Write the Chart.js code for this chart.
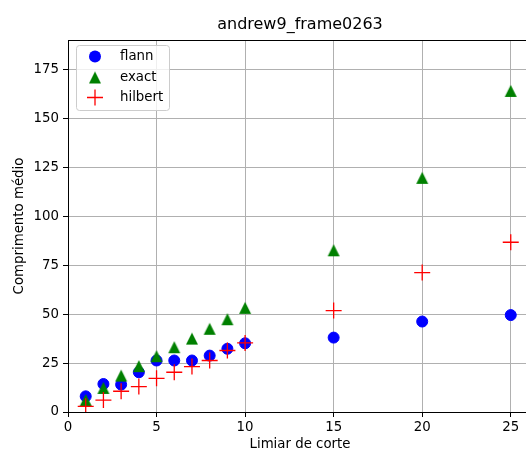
<!DOCTYPE html>
<html>
<head>
<meta charset="utf-8">
<title>andrew9_frame0263</title>
<script src="https://cdn.jsdelivr.net/npm/chart.js@4/dist/chart.umd.min.js"></script>
<style>
  html, body { margin: 0; padding: 0; background: #fff; overflow: hidden; }
  #wrap { width: 526px; height: 459px; overflow: hidden; position: relative; }
  #scatterChart { position: absolute; left: 0; top: 0; }
</style>
</head>
<body>
<div id="wrap"><canvas id="scatterChart" width="600" height="459"></canvas></div>
<script>
// cut-off thresholds and mean lengths per method
const thresholds = [1, 2, 3, 4, 5, 6, 7, 8, 9, 10, 15, 20, 25];
const flann   = [8.0, 14.3, 14.0, 20.3, 26.3, 26.3, 26.3, 28.8, 32.3, 35.1, 38.0, 46.2, 49.5];
const exact   = [6.1, 12.3, 18.6, 23.4, 28.5, 33.1, 37.5, 42.5, 47.4, 53.2, 82.6, 119.6, 164.0];
const hilbert = [2.9, 6.1, 10.6, 13.0, 17.2, 20.3, 23.2, 26.3, 31.4, 35.3, 51.8, 71.2, 86.7];

const xTicks = [0, 5, 10, 15, 20, 25];
const yTicks = [0, 25, 50, 75, 100, 125, 150, 175];

const chartTitle = 'andrew9_frame0263';
const xLabel = 'Limiar de corte';
const yLabel = 'Comprimento médio';
const seriesNames = ['flann', 'exact', 'hilbert'];

const FONT = '"DejaVu Sans", sans-serif';

function toPoints(values) {
  return thresholds.map((t, i) => ({ x: t, y: values[i] }));
}

// matplotlib-style '^' marker, centred on its bounding box
function triangleMarker(size, color) {
  const c = document.createElement('canvas');
  c.width = size + 2;
  c.height = size + 2;
  const g = c.getContext('2d');
  g.beginPath();
  g.moveTo(c.width / 2, 1);
  g.lineTo(1, size + 1);
  g.lineTo(size + 1, size + 1);
  g.closePath();
  g.fillStyle = color;
  g.fill();
  return c;
}
const triangle = triangleMarker(12, 'green');

// title, top spine and the legend box
const decorations = {
  id: 'decorations',
  afterDraw(chart) {
    const { ctx, chartArea: a } = chart;
    ctx.save();

    ctx.strokeStyle = '#000';
    ctx.lineWidth = 1;
    ctx.beginPath();
    ctx.moveTo(a.left, Math.round(a.top) + 0.5);
    ctx.lineTo(a.right, Math.round(a.top) + 0.5);
    ctx.stroke();

    ctx.fillStyle = '#000';
    ctx.font = '16px ' + FONT;
    ctx.textAlign = 'center';
    ctx.textBaseline = 'middle';
    ctx.fillText(chartTitle, (a.left + a.right) / 2, 25);

    // legend
    const bx = 76.5, by = 45.5, bw = 93, bh = 65, r = 3;
    ctx.beginPath();
    ctx.moveTo(bx + r, by);
    ctx.lineTo(bx + bw - r, by);
    ctx.arcTo(bx + bw, by, bx + bw, by + r, r);
    ctx.lineTo(bx + bw, by + bh - r);
    ctx.arcTo(bx + bw, by + bh, bx + bw - r, by + bh, r);
    ctx.lineTo(bx + r, by + bh);
    ctx.arcTo(bx, by + bh, bx, by + bh - r, r);
    ctx.lineTo(bx, by + r);
    ctx.arcTo(bx, by, bx + r, by, r);
    ctx.closePath();
    ctx.fillStyle = 'rgba(255,255,255,0.8)';
    ctx.fill();
    ctx.strokeStyle = '#cccccc';
    ctx.stroke();

    const mx = 95;
    const rows = [56.5, 77.5, 97.5];

    ctx.fillStyle = 'blue';
    ctx.beginPath();
    ctx.arc(mx, rows[0], 6, 0, Math.PI * 2);
    ctx.fill();

    ctx.drawImage(triangle, mx - triangle.width / 2, rows[1] - triangle.height / 2);

    ctx.strokeStyle = 'red';
    ctx.lineWidth = 1.3;
    ctx.beginPath();
    ctx.moveTo(mx - 8, rows[2]);
    ctx.lineTo(mx + 8, rows[2]);
    ctx.moveTo(mx, rows[2] - 8);
    ctx.lineTo(mx, rows[2] + 8);
    ctx.stroke();

    ctx.fillStyle = '#000';
    ctx.font = '13.33px ' + FONT;
    ctx.textAlign = 'left';
    ctx.textBaseline = 'middle';
    seriesNames.forEach((name, i) => ctx.fillText(name, 120, rows[i]));

    ctx.restore();
  }
};

const tickFont = { family: FONT, size: 13.33 };
const gridStyle = { color: '#b0b0b0', lineWidth: 1, tickColor: '#000', tickLength: 5, drawTicks: true };

new Chart(document.getElementById('scatterChart'), {
  type: 'scatter',
  data: {
    datasets: [
      {
        label: 'flann',
        data: toPoints(flann),
        pointStyle: 'circle',
        pointRadius: 5.5,
        borderWidth: 1,
        backgroundColor: 'blue',
        borderColor: 'blue',
        order: 3
      },
      {
        label: 'exact',
        data: toPoints(exact),
        pointStyle: triangle,
        pointRadius: 7,
        backgroundColor: 'green',
        borderColor: 'green',
        order: 2
      },
      {
        label: 'hilbert',
        data: toPoints(hilbert),
        pointStyle: 'cross',
        pointRadius: 8,
        borderWidth: 1.3,
        backgroundColor: 'red',
        borderColor: 'red',
        order: 1
      }
    ]
  },
  options: {
    responsive: false,
    animation: false,
    events: [],
    // the plot runs past the right edge of the page, so the right spine is cut off
    layout: { padding: { top: 40, right: 68, left: 0, bottom: 0 } },
    plugins: {
      legend: { display: false },
      tooltip: { enabled: false },
      title: { display: false }
    },
    scales: {
      x: {
        type: 'linear',
        min: 0,
        max: 26.2,
        afterBuildTicks: s => { s.ticks = xTicks.map(v => ({ value: v })); },
        afterFit: s => { s.height = 47; },
        ticks: { color: '#000', font: tickFont, padding: 3, maxRotation: 0 },
        grid: gridStyle,
        border: { color: '#000', width: 1 },
        title: {
          display: true,
          text: xLabel,
          color: '#000',
          font: tickFont,
          padding: { top: 0, bottom: 6 }
        }
      },
      y: {
        type: 'linear',
        min: 0,
        max: 190,
        afterBuildTicks: s => { s.ticks = yTicks.map(v => ({ value: v })); },
        afterFit: s => { s.width = 68; },
        ticks: { color: '#000', font: tickFont, padding: 4 },
        grid: gridStyle,
        border: { color: '#000', width: 1 },
        title: {
          display: true,
          text: yLabel,
          color: '#000',
          font: tickFont,
          padding: { top: 12, bottom: 0 }
        }
      }
    }
  },
  plugins: [decorations]
});
</script>
</body>
</html>
